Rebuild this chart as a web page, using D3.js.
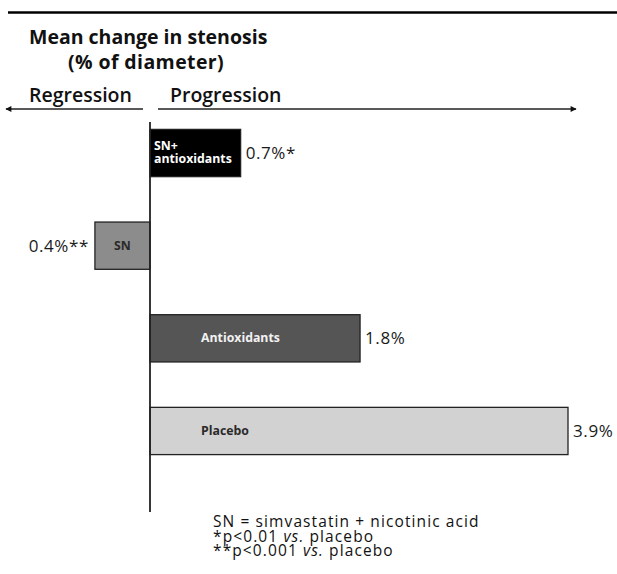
<!DOCTYPE html>
<html>
<head>
<meta charset="utf-8">
<script src="https://cdn.jsdelivr.net/npm/d3@7"></script>
<style>
  html, body { margin: 0; padding: 0; background: #fff; }
  svg { display: block; }
  text { font-family: "Open Sans", "Noto Sans", sans-serif; }
</style>
</head>
<body>
<svg id="chart" width="617" height="574"></svg>
<script>
// ---- data ----
const categories = ["SN+ antioxidants", "SN", "Antioxidants", "Placebo"];
const values = [0.7, -0.4, 1.8, 3.9];
const valueLabels = ["0.7%*", "0.4%**", "1.8%", "3.9%"];
const barLabels = [["SN+", "antioxidants"], ["SN"], ["Antioxidants"], ["Placebo"]];
const titleLines = ["Mean change in stenosis", "(% of diameter)"];
const directionLabels = ["Regression", "Progression"];
const footnotes = [
  [["SN = simvastatin + nicotinic acid", false]],
  [["*p<0.01 ", false], ["vs.", true], [" placebo", false]],
  [["**p<0.001 ", false], ["vs.", true], [" placebo", false]]
];

// ---- styles ----
const fills = { "SN+ antioxidants": "#000000", "SN": "#8c8c8c", "Antioxidants": "#555555", "Placebo": "#d2d2d2" };
const labelColors = { "SN+ antioxidants": "#ffffff", "SN": "#2a2a2a", "Antioxidants": "#f2f2f2", "Placebo": "#2a2a2a" };

const svg = d3.select("#chart");

// scales
const x = d3.scalePow().exponent(0.89).domain([0, 3.9]).range([150, 568]);
const y = d3.scaleBand().domain(categories).range([84, 500]).paddingInner(0.49).paddingOuter(0.49);

// top rule
svg.append("line").attr("x1", 8).attr("x2", 617).attr("y1", 12.5).attr("y2", 12.5)
  .attr("stroke", "#000").attr("stroke-width", 2.5);

// title
svg.append("text").attr("x", 29).attr("y", 44).attr("font-size", 19.5).attr("font-weight", 700)
  .attr("fill", "#111").text(titleLines[0]);
svg.append("text").attr("x", 68).attr("y", 69).attr("font-size", 19.5).attr("font-weight", 700)
  .attr("letter-spacing", 0.4).attr("fill", "#111").text(titleLines[1]);

// direction labels
svg.append("text").attr("x", 29).attr("y", 102).attr("font-size", 19.5).attr("font-weight", 600)
  .attr("fill", "#111").text(directionLabels[0]);
svg.append("text").attr("x", 170).attr("y", 102).attr("font-size", 19.5).attr("font-weight", 600)
  .attr("fill", "#111").text(directionLabels[1]);

// arrows
const defs = svg.append("defs");
defs.append("marker").attr("id", "ah").attr("viewBox", "0 0 10 10").attr("refX", 9).attr("refY", 5)
  .attr("markerWidth", 9).attr("markerHeight", 6).attr("markerUnits", "userSpaceOnUse")
  .attr("orient", "auto-start-reverse")
  .append("path").attr("d", "M0,0 L10,5 L0,10 Z").attr("fill", "#111");

svg.append("line").attr("x1", 143).attr("x2", 6).attr("y1", 109).attr("y2", 109)
  .attr("stroke", "#222").attr("stroke-width", 1.5).attr("marker-end", "url(#ah)");
svg.append("line").attr("x1", 158).attr("x2", 576).attr("y1", 109).attr("y2", 109)
  .attr("stroke", "#222").attr("stroke-width", 1.5).attr("marker-end", "url(#ah)");

// bars
const data = categories.map((c, i) => ({ c, v: values[i], lab: valueLabels[i], bl: barLabels[i] }));

svg.selectAll("rect.bar").data(data).join("rect").attr("class", "bar")
  .attr("x", d => Math.min(x(0), x(d.v)))
  .attr("width", d => Math.abs(x(d.v) - x(0)))
  .attr("y", d => y(d.c))
  .attr("height", y.bandwidth())
  .attr("fill", d => fills[d.c])
  .attr("stroke", "#222").attr("stroke-width", 1.3);

// vertical axis
svg.append("line").attr("x1", x(0)).attr("x2", x(0)).attr("y1", 122).attr("y2", 512)
  .attr("stroke", "#222").attr("stroke-width", 1.8);

// labels inside bars
data.forEach((d, i) => {
  const cy = y(d.c) + y.bandwidth() / 2;
  const t = svg.append("text").attr("font-size", 12.3).attr("font-weight", 700)
    .attr("fill", labelColors[d.c]);
  if (d.bl.length > 1) {
    t.attr("x", x(0) + 5);
    d.bl.forEach((line, j) => {
      t.append("tspan").attr("x", x(0) + 4).attr("y", cy - 3 + j * 13).text(line);
    });
  } else if (d.v < 0) {
    t.attr("x", (x(0) + x(d.v)) / 2).attr("y", cy + 4).attr("text-anchor", "middle").text(d.bl[0]);
  } else {
    t.attr("x", x(0) + 51).attr("y", cy + 4).text(d.bl[0]);
  }
});

// value labels
svg.selectAll("text.val").data(data).join("text").attr("class", "val")
  .attr("x", d => d.v >= 0 ? x(d.v) + 5 : x(d.v) - 6)
  .attr("y", d => y(d.c) + y.bandwidth() / 2 + 6)
  .attr("text-anchor", d => d.v >= 0 ? "start" : "end")
  .attr("font-size", 17).attr("letter-spacing", 0.6).attr("fill", "#1a1a1a")
  .text(d => d.lab);

// footnotes
footnotes.forEach((parts, i) => {
  const t = svg.append("text").attr("x", 213).attr("y", 527 + i * 14.5)
    .attr("font-size", 15.5).attr("letter-spacing", 1.1).attr("fill", "#111");
  parts.forEach(([s, it]) => {
    t.append("tspan").attr("font-style", it ? "italic" : "normal").text(s);
  });
});
</script>
</body>
</html>
